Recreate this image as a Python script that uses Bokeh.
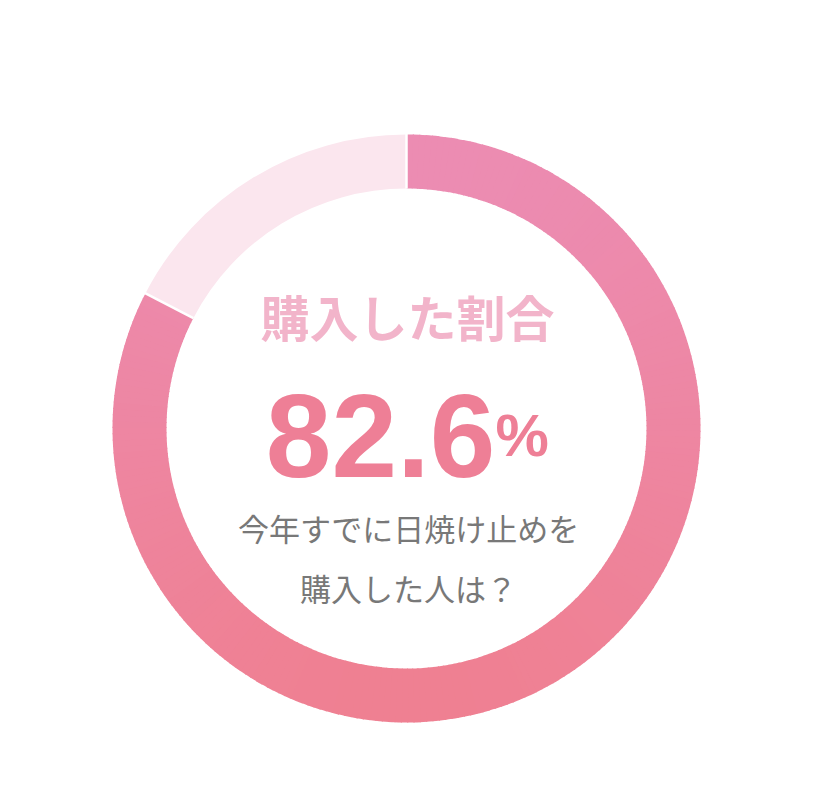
import numpy as np
from bokeh.plotting import figure
from bokeh.models import ColumnDataSource, Range1d
from bokeh.core.properties import value
from bokeh.embed import file_html
from bokeh.resources import INLINE

# ---- data ----
labels = ["購入した", "購入していない"]
shares = [82.6, 17.4]
title_text = "購入した割合"
number_text = "82.6"
unit_text = "%"
caption_lines = ["今年すでに日焼け止めを", "購入した人は？"]

W, H = 804, 796
cx, cy = 406, H - 428
r_out, r_in = 294, 240

p = figure(width=W, height=H, output_backend="svg", toolbar_location=None,
           x_range=Range1d(0, W), y_range=Range1d(0, H), min_border=0)
p.axis.visible = False
p.grid.visible = False
p.outline_line_color = None
p.background_fill_color = "white"
p.border_fill_color = "white"

# angles: start at top, clockwise
total = sum(shares)
ends = np.cumsum(shares) / total * 2 * np.pi
starts = np.concatenate([[0.0], ends[:-1]])

def to_bokeh(a):
    return np.pi / 2 - a

# main slice drawn as many thin wedges with vertical colour gradient
top_c = np.array([0xEC, 0x8C, 0xB2])
bot_c = np.array([0xEF, 0x80, 0x92])
n = 240
a0, a1 = starts[0], ends[0]
edges = np.linspace(a0, a1, n + 1)
mids = (edges[:-1] + edges[1:]) / 2
ys = np.cos(mids)  # 1 top, -1 bottom
t = (1 - ys) / 2
cols = ["#%02x%02x%02x" % tuple(np.round(top_c + (bot_c - top_c) * ti).astype(int)) for ti in t]
eps = 0.004
sa = to_bokeh(np.minimum(edges[1:] + eps, a1))
ea = to_bokeh(edges[:-1])
src = ColumnDataSource(dict(x=[cx] * n, y=[cy] * n, s=sa, e=ea, c=cols))
p.annular_wedge(x="x", y="y", inner_radius=r_in, outer_radius=r_out,
                start_angle="s", end_angle="e", fill_color="c", line_color=None, source=src)

# remaining slice
p.annular_wedge(x=cx, y=cy, inner_radius=r_in, outer_radius=r_out,
                start_angle=to_bokeh(ends[1]), end_angle=to_bokeh(starts[1]),
                fill_color="#FBE6EE", line_color=None)

# white separators
for a in [starts[0], starts[1]]:
    ba = to_bokeh(a)
    p.segment(x0=cx + r_in * np.cos(ba), y0=cy + r_in * np.sin(ba),
              x1=cx + (r_out + 2) * np.cos(ba), y1=cy + (r_out + 2) * np.sin(ba),
              line_color="white", line_width=2.5)

# texts
p.text(x=[cx + 1], y=[H - 315], text=[title_text], text_align="center", text_baseline="middle",
       text_font=value("Noto Sans CJK JP"), text_font_style="bold", text_font_size="49px",
       text_color="#F2B4CA")
p.text(x=[cx + 89], y=[H - 435], text=[number_text], text_align="right", text_baseline="alphabetic",
       text_font=value("Liberation Sans"), text_font_style="bold", text_font_size="118px",
       text_color="#EE7F96")
p.text(x=[cx + 89], y=[H - 435], text=[unit_text], text_align="left", text_baseline="alphabetic",
       text_font=value("Liberation Sans"), text_font_style="bold", text_font_size="60px",
       text_color="#EE7F96")
p.text(x=[cx + 2, cx + 2], y=[H - 527, H - 587], text=caption_lines, text_align="center",
       text_baseline="middle", text_font=value("Noto Sans CJK JP"), text_font_size="31px",
       text_color="#787878")

open("out.html", "w").write(file_html(p, INLINE))
